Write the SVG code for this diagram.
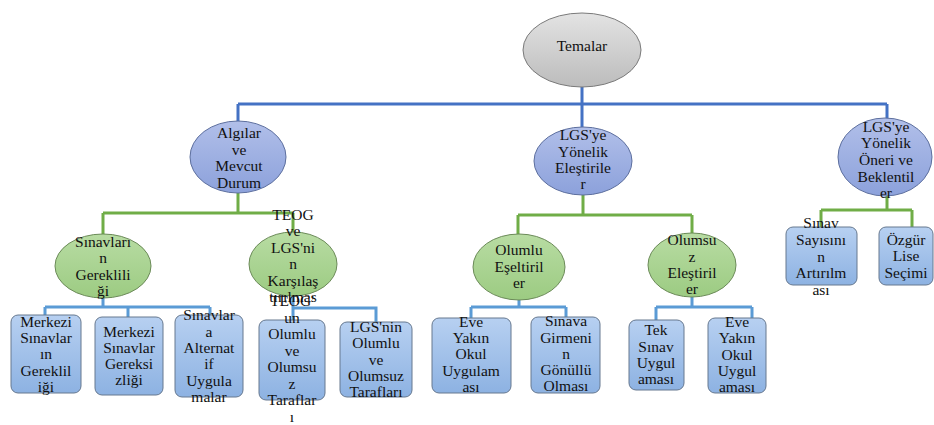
<svg xmlns="http://www.w3.org/2000/svg" width="934" height="425" viewBox="0 0 934 425">
<defs>
<linearGradient id="gGray" x1="0" y1="0" x2="0" y2="1"><stop offset="0" stop-color="#e3e3e3"/><stop offset="1" stop-color="#bcbcbc"/></linearGradient>
<linearGradient id="gBlue" x1="0" y1="0" x2="0" y2="1"><stop offset="0" stop-color="#b1bfe9"/><stop offset="1" stop-color="#8ca1db"/></linearGradient>
<linearGradient id="gGreen" x1="0" y1="0" x2="0" y2="1"><stop offset="0" stop-color="#b8dca3"/><stop offset="1" stop-color="#9ccb82"/></linearGradient>
<linearGradient id="gBox" x1="0" y1="0" x2="0" y2="1"><stop offset="0" stop-color="#b7d0f1"/><stop offset="1" stop-color="#8db2e2"/></linearGradient>
</defs>
<style>
.gray{fill:url(#gGray);stroke:#7a7a7a;stroke-width:1}
.blue{fill:url(#gBlue);stroke:#5d6f9e;stroke-width:1}
.green{fill:url(#gGreen);stroke:#6b8a58;stroke-width:1}
.box{fill:url(#gBox);stroke:#66788f;stroke-width:1}
text{font-family:"Liberation Serif","Times New Roman",serif;font-size:15.5px;fill:#111;text-anchor:middle}
.c1{fill:none;stroke:#4472c4;stroke-width:3}
.c2{fill:none;stroke:#70ad47;stroke-width:3}
.c3{fill:none;stroke:#5b9bd5;stroke-width:3}
</style>
<g id="connectors">
<path class="c1" d="M582 87V104M238 104H887M238 104V122M582 104V127M887 104V119"/>
<path class="c2" d="M238 193V213M103 213H293M103 213V235M293 213V232"/>
<path class="c2" d="M583 195V215M518 215H692M518 215V234M692 215V233"/>
<path class="c2" d="M887 196V210M821 210H912M821 210V227M912 210V227"/>
<path class="c3" d="M103 298V307M45 307H210M45 307V315M128 307V317M210 307V315"/>
<path class="c3" d="M293 296V320M293 308H376V322"/>
<path class="c3" d="M519 300V307M471 307H566M471 307V318M566 307V317"/>
<path class="c3" d="M692 297V307M656 307H752M656 307V320M752 307V318"/>
</g>
<g id="temalar"><ellipse class="gray" cx="582" cy="50" rx="59" ry="37"/><text x="582" y="51">Temalar</text></g>
<g id="algilar"><ellipse class="blue" cx="238" cy="157" rx="48" ry="36"/><text><tspan x="239" y="138">Algılar</tspan><tspan x="239" y="155">ve</tspan><tspan x="239" y="171">Mevcut</tspan><tspan x="239" y="188">Durum</tspan></text></g>
<g id="elestiriler"><ellipse class="blue" cx="583" cy="161" rx="49" ry="34"/><text><tspan x="583" y="140">LGS'ye</tspan><tspan x="583" y="157">Yönelik</tspan><tspan x="583" y="173">Eleştirile</tspan><tspan x="583" y="189">r</tspan></text></g>
<g id="oneri"><ellipse class="blue" cx="885" cy="157" rx="47" ry="39"/><text><tspan x="886" y="132">LGS'ye</tspan><tspan x="886" y="148">Yönelik</tspan><tspan x="886" y="165">Öneri ve</tspan><tspan x="886" y="182">Beklentil</tspan><tspan x="886" y="198">er</tspan></text></g>
<g id="sinavlarin"><ellipse class="green" cx="103" cy="266" rx="48" ry="32"/><text><tspan x="103" y="247">Sınavları</tspan><tspan x="103" y="263">n</tspan><tspan x="103" y="280">Gereklili</tspan><tspan x="103" y="296">ği</tspan></text></g>
<g id="teog"><ellipse class="green" cx="293" cy="264" rx="44" ry="32"/><text><tspan x="293" y="220">TEOG</tspan><tspan x="293" y="236">ve</tspan><tspan x="293" y="253">LGS'ni</tspan><tspan x="293" y="269">n</tspan><tspan x="293" y="286">Karşılaş</tspan><tspan x="293" y="302">tırılmas</tspan></text></g>
<g id="olumlu"><ellipse class="green" cx="519" cy="267" rx="46" ry="33"/><text><tspan x="519" y="255">Olumlu</tspan><tspan x="519" y="272">Eşeltiril</tspan><tspan x="519" y="288">er</tspan></text></g>
<g id="olumsuz"><ellipse class="green" cx="692" cy="265" rx="44" ry="32"/><text><tspan x="692" y="245">Olumsu</tspan><tspan x="692" y="262">z</tspan><tspan x="692" y="278">Eleştiril</tspan><tspan x="692" y="294">er</tspan></text></g>
<g id="b1"><rect class="box" x="11" y="315" width="70" height="78" rx="7"/><text><tspan x="46" y="327">Merkezi</tspan><tspan x="46" y="343">Sınavlar</tspan><tspan x="46" y="359">ın</tspan><tspan x="46" y="376">Gereklil</tspan><tspan x="46" y="392">iği</tspan></text></g>
<g id="b2"><rect class="box" x="95" y="317" width="68" height="78" rx="7"/><text><tspan x="129" y="337">Merkezi</tspan><tspan x="129" y="353">Sınavlar</tspan><tspan x="129" y="369">Gereksi</tspan><tspan x="129" y="385">zliği</tspan></text></g>
<g id="b3"><rect class="box" x="175" y="315" width="68" height="82" rx="7"/><text><tspan x="209" y="320">Sınavlar</tspan><tspan x="209" y="337">a</tspan><tspan x="209" y="353">Alternat</tspan><tspan x="209" y="369">if</tspan><tspan x="209" y="386">Uygula</tspan><tspan x="209" y="402">malar</tspan></text></g>
<g id="b4"><rect class="box" x="259" y="320" width="66" height="80" rx="7"/><text><tspan x="292" y="306">TEOG'</tspan><tspan x="292" y="322.5">un</tspan><tspan x="292" y="339">Olumlu</tspan><tspan x="292" y="355.5">ve</tspan><tspan x="292" y="372">Olumsu</tspan><tspan x="292" y="388.5">z</tspan><tspan x="292" y="405">Taraflar</tspan><tspan x="292" y="421.5">ı</tspan></text></g>
<g id="b5"><rect class="box" x="340" y="322" width="72" height="75" rx="7"/><text><tspan x="376" y="332">LGS'nin</tspan><tspan x="376" y="348">Olumlu</tspan><tspan x="376" y="365">ve</tspan><tspan x="376" y="381">Olumsuz</tspan><tspan x="376" y="397">Tarafları</tspan></text></g>
<g id="b6"><rect class="box" x="432" y="318" width="79" height="75" rx="7"/><text><tspan x="471" y="327">Eve</tspan><tspan x="471" y="343">Yakın</tspan><tspan x="471" y="359">Okul</tspan><tspan x="471" y="376">Uygulam</tspan><tspan x="471" y="392">ası</tspan></text></g>
<g id="b7"><rect class="box" x="531" y="317" width="69" height="76" rx="7"/><text><tspan x="566" y="326">Sınava</tspan><tspan x="566" y="343">Girmeni</tspan><tspan x="566" y="359">n</tspan><tspan x="566" y="375">Gönüllü</tspan><tspan x="566" y="391">Olması</tspan></text></g>
<g id="b8"><rect class="box" x="629" y="320" width="55" height="70" rx="7"/><text><tspan x="656" y="335">Tek</tspan><tspan x="656" y="352">Sınav</tspan><tspan x="656" y="368">Uygul</tspan><tspan x="656" y="384">aması</tspan></text></g>
<g id="b9"><rect class="box" x="708" y="318" width="58" height="75" rx="7"/><text><tspan x="737" y="327">Eve</tspan><tspan x="737" y="343">Yakın</tspan><tspan x="737" y="360">Okul</tspan><tspan x="737" y="376">Uygul</tspan><tspan x="737" y="392">aması</tspan></text></g>
<g id="b10"><rect class="box" x="786" y="227" width="71" height="58" rx="7"/><text><tspan x="821" y="228">Sınav</tspan><tspan x="821" y="245">Sayısını</tspan><tspan x="821" y="262">n</tspan><tspan x="821" y="278">Artırılm</tspan><tspan x="821" y="295">ası</tspan></text></g>
<g id="b11"><rect class="box" x="879" y="227" width="54" height="58" rx="7"/><text><tspan x="906" y="245">Özgür</tspan><tspan x="906" y="261">Lise</tspan><tspan x="906" y="278">Seçimi</tspan></text></g>
</svg>
